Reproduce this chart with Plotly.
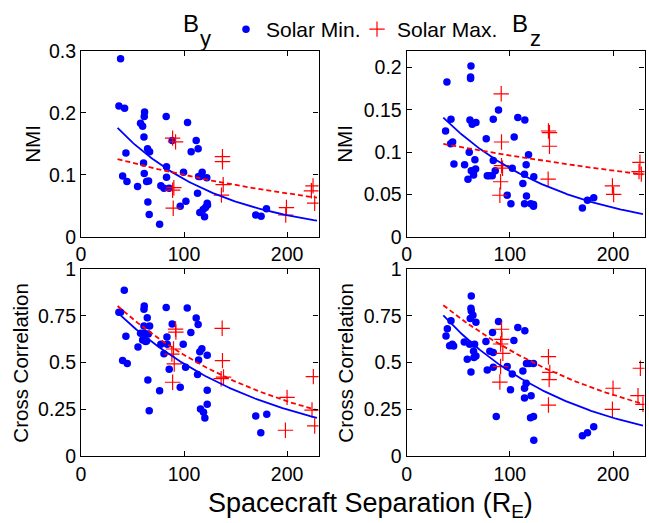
import numpy as np
import plotly.graph_objects as go

# ---------------- data ----------------
# Top-left: B_y NMI
by_nmi_min_x = [38.4, 36.8, 42.3, 43.6, 40.4, 44.6, 54.9, 57.8, 59.8, 61.7, 61.4, 61.1, 60.7, 61.4, 64.6, 66.6, 63.7, 65.6, 64.9, 66.2,
                76.3, 77.5, 80.5, 82.7, 83.0, 83.0, 85.6, 88.5, 96.3, 99.5, 101.8, 103.4, 106.9, 111.8, 113.7, 113.1, 114.1, 115.7, 117.6, 115.3,
                118.6, 119.9, 120.8, 122.1, 122.5, 122.8, 169.6, 174.8, 180.0]
by_nmi_min_y = [0.287, 0.211, 0.207, 0.135, 0.098, 0.089, 0.081, 0.183, 0.178, 0.201, 0.194, 0.161, 0.119, 0.102, 0.142, 0.137, 0.089, 0.090, 0.056, 0.036,
                0.020, 0.082, 0.078, 0.194, 0.113, 0.096, 0.078, 0.155, 0.049, 0.104, 0.057, 0.184, 0.137, 0.155, 0.142, 0.070, 0.097, 0.097, 0.104, 0.039,
                0.044, 0.032, 0.047, 0.095, 0.054, 0.051, 0.035, 0.033, 0.045]
by_nmi_max_x = [88.9, 91.8, 90.1, 88.9, 89.5, 137.3, 137.3, 138.0, 136.3, 199.4, 198.7, 225.2, 223.6, 226.8]
by_nmi_max_y = [0.159, 0.153, 0.079, 0.075, 0.046, 0.129, 0.121, 0.084, 0.067, 0.047, 0.035, 0.082, 0.074, 0.054]

# Top-right: B_z NMI
bz_nmi_min_x = [39.0, 37.7, 42.9, 44.5, 42.6, 45.8, 56.1, 59.4, 60.6, 62.3, 61.9, 61.9, 61.3, 63.5, 67.1, 62.6, 64.5, 66.1, 66.8, 64.8,
                77.1, 78.1, 80.0, 82.9, 83.9, 83.9, 85.8, 89.0, 97.4, 101.0, 102.3, 104.2, 107.7, 114.5, 112.6, 114.2, 115.8, 118.1, 114.2, 116.1,
                120.3, 122.9, 122.9, 123.2, 170.3, 175.2, 181.3]
bz_nmi_min_y = [0.183, 0.125, 0.139, 0.112, 0.110, 0.086, 0.085, 0.068, 0.100, 0.202, 0.189, 0.187, 0.138, 0.133, 0.135, 0.078, 0.076, 0.091, 0.080, 0.073,
                0.116, 0.072, 0.072, 0.072, 0.139, 0.090, 0.078, 0.150, 0.049, 0.039, 0.081, 0.118, 0.141, 0.138, 0.063, 0.074, 0.085, 0.097, 0.039, 0.048,
                0.039, 0.038, 0.036, 0.071, 0.034, 0.043, 0.046]
bz_nmi_max_x = [91.6, 91.9, 91.9, 92.9, 91.0, 90.3, 137.4, 138.4, 138.4, 137.1, 199.4, 200.6, 226.1, 225.2, 227.4]
bz_nmi_max_y = [0.169, 0.112, 0.084, 0.081, 0.065, 0.049, 0.125, 0.123, 0.107, 0.068, 0.060, 0.050, 0.088, 0.077, 0.074]

# Bottom-left: B_y cross correlation
by_cc_min_x = [42.0, 36.8, 38.4, 43.6, 40.4, 44.9, 55.3, 57.8, 61.4, 61.1, 61.1, 59.8, 61.4, 62.7, 64.3, 66.6, 65.3, 63.7, 64.9, 66.2,
               76.3, 77.5, 80.5, 82.7, 83.4, 83.7, 85.6, 88.5, 96.3, 99.2, 101.5, 103.1, 106.6, 111.8, 113.7, 113.1, 114.1, 115.3, 117.3, 116.0,
               118.9, 120.2, 122.5, 122.5, 122.5, 169.6, 174.5, 180.3]
by_cc_min_y = [0.888, 0.770, 0.770, 0.641, 0.511, 0.496, 0.584, 0.657, 0.804, 0.786, 0.696, 0.621, 0.657, 0.613, 0.741, 0.696, 0.654, 0.616, 0.407, 0.243,
               0.350, 0.598, 0.548, 0.795, 0.638, 0.598, 0.464, 0.707, 0.368, 0.598, 0.475, 0.793, 0.661, 0.739, 0.704, 0.436, 0.514, 0.559, 0.575, 0.252,
               0.234, 0.204, 0.539, 0.352, 0.277, 0.214, 0.125, 0.223]
by_cc_max_x = [91.8, 92.1, 89.8, 88.2, 90.5, 88.9, 137.0, 137.3, 138.3, 136.0, 200.0, 198.4, 225.5, 224.2, 226.8]
by_cc_max_y = [0.680, 0.664, 0.573, 0.546, 0.493, 0.395, 0.684, 0.511, 0.423, 0.414, 0.314, 0.138, 0.425, 0.246, 0.161]

# Bottom-right: B_z cross correlation
bz_cc_min_x = [42.9, 39.4, 38.1, 41.6, 44.2, 45.5, 55.8, 58.7, 62.6, 62.3, 62.6, 61.6, 64.2, 67.1, 61.0, 64.8, 65.8, 67.1, 65.2, 62.3,
               76.8, 78.1, 80.6, 83.2, 83.9, 83.9, 86.8, 89.0, 97.4, 100.6, 102.3, 103.9, 107.7, 114.5, 112.6, 114.2, 114.2, 115.8, 116.1, 118.7,
               120.6, 120.0, 122.9, 122.9, 123.2, 170.3, 175.2, 181.3]
bz_cc_min_y = [0.725, 0.682, 0.643, 0.591, 0.598, 0.589, 0.611, 0.518, 0.857, 0.791, 0.777, 0.736, 0.754, 0.716, 0.598, 0.561, 0.598, 0.536, 0.527, 0.450,
               0.613, 0.461, 0.561, 0.661, 0.554, 0.475, 0.211, 0.720, 0.479, 0.355, 0.439, 0.618, 0.688, 0.671, 0.455, 0.363, 0.311, 0.389, 0.496, 0.496,
               0.323, 0.205, 0.496, 0.211, 0.084, 0.109, 0.125, 0.157]
bz_cc_max_x = [91.9, 92.3, 91.0, 93.2, 91.0, 90.3, 137.4, 138.7, 138.1, 137.4, 200.0, 199.4, 226.5, 224.2, 229.0]
bz_cc_max_y = [0.679, 0.625, 0.600, 0.550, 0.479, 0.396, 0.532, 0.448, 0.409, 0.273, 0.363, 0.250, 0.470, 0.323, 0.277]

# exponential fit parameters y = a * exp(-b * x)
fit_min_a = [0.249, 0.191, 0.979, 0.998]
fit_min_b = [0.00987, 0.00858, 0.00685, 0.00793]
fit_max_a = [0.142, 0.118, 0.999, 0.981]
fit_max_b = [0.00355, 0.00206, 0.00613, 0.00549]
fit_x_range = [35.5, 229.0]

x_ticks = [0, 100, 200]
y_ticks_by_nmi = [0, 0.1, 0.2, 0.3]
y_ticks_bz_nmi = [0, 0.05, 0.1, 0.15, 0.2]
y_ticks_cc = [0, 0.25, 0.5, 0.75, 1]

# ---------------- figure ----------------
W, H = 649, 523
FONT = "Liberation Sans, Arial, Helvetica, sans-serif"
BLUE = "#0000ff"
RED = "#ff0000"

def px_x(p):
    return p / W

def px_y(p):
    return 1 - p / H

dom_left = [px_x(81), px_x(318.5)]
dom_right = [px_x(406.7), px_x(644.5)]
dom_top = [px_y(236.7), px_y(50.7)]
dom_bot = [px_y(456), px_y(269.3)]

panels = [
    dict(xa="x", ya="y", xd=dom_left, yd=dom_top, mx=by_nmi_min_x, my=by_nmi_min_y, Mx=by_nmi_max_x, My=by_nmi_max_y,
         yr=[0, 0.3], yt=y_ticks_by_nmi, ytxt=["0", "0.1", "0.2", "0.3"]),
    dict(xa="x2", ya="y2", xd=dom_right, yd=dom_top, mx=bz_nmi_min_x, my=bz_nmi_min_y, Mx=bz_nmi_max_x, My=bz_nmi_max_y,
         yr=[0, 0.22], yt=y_ticks_bz_nmi, ytxt=["0", "0.05", "0.1", "0.15", "0.2"]),
    dict(xa="x3", ya="y3", xd=dom_left, yd=dom_bot, mx=by_cc_min_x, my=by_cc_min_y, Mx=by_cc_max_x, My=by_cc_max_y,
         yr=[0, 1], yt=y_ticks_cc, ytxt=["0", "0.25", "0.5", "0.75", "1"]),
    dict(xa="x4", ya="y4", xd=dom_right, yd=dom_bot, mx=bz_cc_min_x, my=bz_cc_min_y, Mx=bz_cc_max_x, My=bz_cc_max_y,
         yr=[0, 1], yt=y_ticks_cc, ytxt=["0", "0.25", "0.5", "0.75", "1"]),
]

fig = go.Figure()
fx = np.linspace(fit_x_range[0], fit_x_range[1], 120)

for i, p in enumerate(panels):
    fig.add_trace(go.Scatter(x=p["mx"], y=p["my"], mode="markers", xaxis=p["xa"], yaxis=p["ya"],
                             marker=dict(color=BLUE, size=7.5, line=dict(width=0)),
                             name="Solar Min.", showlegend=(i == 0), legend="legend", cliponaxis=True))
    fig.add_trace(go.Scatter(x=p["Mx"], y=p["My"], mode="markers", xaxis=p["xa"], yaxis=p["ya"],
                             marker=dict(symbol="cross-thin-open", color=RED, size=11, line=dict(color=RED, width=1.2)),
                             name="Solar Max.", showlegend=(i == 0), legend="legend2", cliponaxis=True))
    fig.add_trace(go.Scatter(x=fx, y=fit_min_a[i] * np.exp(-fit_min_b[i] * fx), mode="lines",
                             xaxis=p["xa"], yaxis=p["ya"], line=dict(color=BLUE, width=1.8),
                             showlegend=False, hoverinfo="skip"))
    fig.add_trace(go.Scatter(x=fx, y=fit_max_a[i] * np.exp(-fit_max_b[i] * fx), mode="lines",
                             xaxis=p["xa"], yaxis=p["ya"], line=dict(color=RED, width=1.8, dash="5px,3px"),
                             showlegend=False, hoverinfo="skip"))

axis_common = dict(showline=True, linecolor="black", linewidth=1.2, mirror="ticks", ticks="inside",
                   ticklen=5, tickcolor="black", showgrid=False, zeroline=False, automargin=False,
                   tickfont=dict(family=FONT, size=19.5, color="black"))

layout = dict(width=W, height=H, margin=dict(l=0, r=0, t=0, b=0, autoexpand=False),
              paper_bgcolor="white", plot_bgcolor="white", font=dict(family=FONT, color="black"))

for i, p in enumerate(panels):
    sfx = "" if i == 0 else str(i + 1)
    layout["xaxis" + sfx] = dict(domain=p["xd"], range=[0, 230.5], tickvals=x_ticks,
                                 anchor="y" + sfx, **axis_common)
    layout["yaxis" + sfx] = dict(domain=p["yd"], range=p["yr"], tickvals=p["yt"], ticktext=p["ytxt"],
                                 anchor="x" + sfx, **axis_common)

fig.update_layout(**layout)

legend_font = dict(family=FONT, size=21, color="black")
fig.update_layout(
    legend=dict(orientation="h", x=px_x(226), y=px_y(9), xanchor="left", yanchor="top",
                font=legend_font, bgcolor="rgba(0,0,0,0)"),
    legend2=dict(orientation="h", x=px_x(357), y=px_y(9), xanchor="left", yanchor="top",
                 font=legend_font, bgcolor="rgba(0,0,0,0)"),
)

ann = []
# panel titles: B with subscript
for cx, sub in [(191, "y"), (520, "z")]:
    ann.append(dict(text="B", x=px_x(cx), y=px_y(23), xref="paper", yref="paper",
                    xanchor="center", yanchor="middle", showarrow=False, font=dict(family=FONT, size=24)))
    ann.append(dict(text=sub, x=px_x(cx + 15), y=px_y(38), xref="paper", yref="paper",
                    xanchor="center", yanchor="middle", showarrow=False, font=dict(family=FONT, size=22)))
ann.append(dict(text="NMI", x=px_x(33), y=(dom_top[0] + dom_top[1]) / 2, xref="paper", yref="paper",
                xanchor="center", yanchor="middle", textangle=-90, showarrow=False, font=dict(family=FONT, size=20.5)))
ann.append(dict(text="NMI", x=px_x(345), y=(dom_top[0] + dom_top[1]) / 2, xref="paper", yref="paper",
                xanchor="center", yanchor="middle", textangle=-90, showarrow=False, font=dict(family=FONT, size=20.5)))
ann.append(dict(text="Cross Correlation", x=px_x(21), y=(dom_bot[0] + dom_bot[1]) / 2, xref="paper", yref="paper",
                xanchor="center", yanchor="middle", textangle=-90, showarrow=False, font=dict(family=FONT, size=20.5)))
ann.append(dict(text="Cross Correlation", x=px_x(346), y=(dom_bot[0] + dom_bot[1]) / 2, xref="paper", yref="paper",
                xanchor="center", yanchor="middle", textangle=-90, showarrow=False, font=dict(family=FONT, size=20.5)))
ann.append(dict(text="Spacecraft Separation (R<sub>E</sub>)", x=px_x(370), y=px_y(505), xref="paper", yref="paper",
                xanchor="center", yanchor="middle", showarrow=False, font=dict(family=FONT, size=27)))
fig.update_layout(annotations=ann)

fig.write_html("out.html", config={"displayModeBar": False},
               post_script="document.body.style.margin='0px';document.documentElement.style.overflow='hidden';document.body.style.overflow='hidden';")
